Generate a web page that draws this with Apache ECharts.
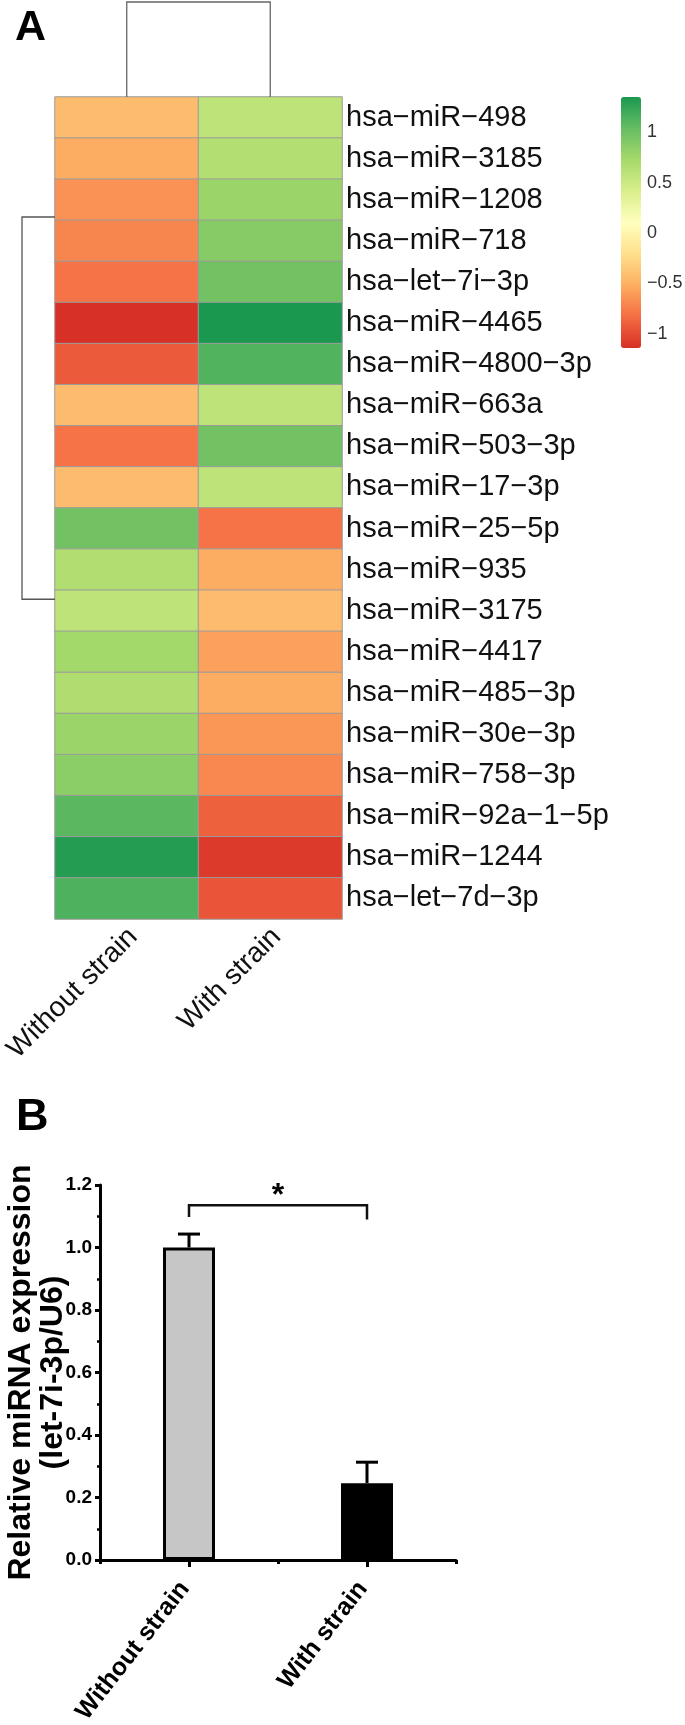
<!DOCTYPE html>
<html><head><meta charset="utf-8">
<script src="https://cdn.jsdelivr.net/npm/echarts@6/dist/echarts.min.js"></script>
<style>html,body{margin:0;padding:0;background:#fff}#c{width:685px;height:1725px}</style>
</head><body><div id="c"></div>
<script>
// ---------- Data ----------
const mirnas = ['hsa-miR-498','hsa-miR-3185','hsa-miR-1208','hsa-miR-718','hsa-let-7i-3p','hsa-miR-4465','hsa-miR-4800-3p','hsa-miR-663a','hsa-miR-503-3p','hsa-miR-17-3p','hsa-miR-25-5p','hsa-miR-935','hsa-miR-3175','hsa-miR-4417','hsa-miR-485-3p','hsa-miR-30e-3p','hsa-miR-758-3p','hsa-miR-92a-1-5p','hsa-miR-1244','hsa-let-7d-3p'];
const groups = ['Without strain','With strain'];
const withoutStrainZ = [-0.43,-0.52,-0.65,-0.71,-0.80,-1.14,-0.92,-0.43,-0.80,-0.43,0.98,0.66,0.59,0.74,0.67,0.78,0.86,1.08,1.31,1.14];
const withStrainZ   = [0.59,0.65,0.78,0.88,0.98,1.35,1.12,0.59,0.98,0.59,-0.80,-0.52,-0.43,-0.58,-0.52,-0.63,-0.70,-0.89,-1.09,-0.95];
const colorMin = -1.14, colorMax = 1.35;
const colorTicks = [-1,-0.5,0,0.5,1];
const rowTreeBranches = [2.92, 12.22];   // row positions (in rows from top) joined by the row dendrogram
const barGroups = ['Without strain','With strain'];
const barMeans = [1.0, 0.246];
const barErrors = [0.043, 0.067];
const sigBracket = [{from:0, to:1, level:1.135, dropFrom:1.098, dropTo:1.09, label:'*'}];

// ---------- Build ----------
const heatData = [];
mirnas.forEach((m, r) => {
  heatData.push([0, r, withoutStrainZ[r]]);
  heatData.push([1, r, withStrainZ[r]]);
});
const FONT = 'Liberation Sans, Arial, Helvetica, sans-serif';
const NARROW = 'Liberation Sans Narrow, Arial Narrow, Liberation Sans, Arial, sans-serif';
const minus = s => String(s).replace(/-/g, '\u2212');
const palette = ['#d73027','#f46d43','#fdae61','#fee08b','#ffffbf','#d9ef8b','#a6d96a','#66bd63','#1a9850'];

const chart = echarts.init(document.getElementById('c'), null, {renderer: 'canvas'});
const option = {
  animation: false,
  backgroundColor: '#fff',
  title: [
    {text: 'A', left: 10, top: 2, textStyle: {fontFamily: FONT, fontSize: 43, fontWeight: 'bold', color: '#000'}},
    {text: 'B', left: 11, top: 1090, textStyle: {fontFamily: FONT, fontSize: 45, fontWeight: 'bold', color: '#000'}}
  ],
  grid: [
    {left: 55, top: 97, width: 287, height: 822, outerBoundsMode: 'none', containLabel: false},
    {left: 100, top: 1185, width: 356, height: 375, outerBoundsMode: 'none', containLabel: false},
    {left: 621, top: 97, width: 20, height: 251, outerBoundsMode: 'none', containLabel: false}
  ],
  visualMap: {
    type: 'continuous', min: colorMin, max: colorMax, seriesIndex: 0,
    left: 621, top: 97, itemWidth: 20, itemHeight: 251, padding: 0,
    calculable: false, text: null, hoverLink: false, showLabel: false,
    inRange: {color: palette}
  },
  xAxis: [
    {gridIndex: 0, type: 'category', data: groups, position: 'bottom',
     axisLine: {show: false}, axisTick: {show: false}, splitLine: {show: false},
     axisLabel: {rotate: 45, margin: 20, padding: [0, -9, 0, 0], fontFamily: FONT, fontSize: 28, color: '#111', interval: 0}},
    {gridIndex: 1, type: 'category', data: barGroups, position: 'bottom',
     axisLine: {lineStyle: {color: '#000', width: 3}},
     axisTick: {show: true, length: 4, lineStyle: {color: '#000', width: 3}},
     axisLabel: {show: false}},
    {gridIndex: 1, type: 'category', data: barGroups, position: 'bottom',
     axisLine: {show: false},
     axisTick: {show: true, alignWithLabel: true, length: 7, lineStyle: {color: '#000', width: 3}},
     axisLabel: {rotate: 52, margin: 19, padding: [0, 7, 0, 0], fontFamily: FONT, fontSize: 25, fontWeight: 'bold', color: '#000', interval: 0}},
    {gridIndex: 2, type: 'value', show: false, min: 0, max: 1}
  ],
  yAxis: [
    {gridIndex: 0, type: 'category', data: mirnas, inverse: true, position: 'right',
     axisLine: {show: false}, axisTick: {show: false}, splitLine: {show: false},
     axisLabel: {margin: 4, fontFamily: FONT, fontSize: 29, color: '#111', formatter: minus}},
    {gridIndex: 1, type: 'value', min: 0, max: 1.2, interval: 0.2,
     axisLine: {show: true, lineStyle: {color: '#000', width: 3}},
     axisTick: {show: true, length: 5, lineStyle: {color: '#000', width: 3}},
     minorTick: {show: true, splitNumber: 2, length: 3, lineStyle: {color: '#000', width: 2.5}},
     splitLine: {show: false},
     axisLabel: {margin: 8, fontFamily: NARROW, fontSize: 19, fontWeight: 'bold', color: '#000',
                 formatter: v => v.toFixed(1)},
     name: 'Relative miRNA expression\n(let-7i-3p/U6)', nameLocation: 'middle', nameGap: 31, nameRotate: 90,
     nameMoveOverlap: false,
     nameTextStyle: {fontFamily: FONT, fontSize: 32, fontWeight: 'bold', color: '#000', lineHeight: 32}},
    {gridIndex: 2, type: 'value', min: colorMin, max: colorMax, position: 'right',
     axisLine: {show: false}, axisTick: {show: false}, splitLine: {show: false},
     axisLabel: {customValues: colorTicks, margin: 6, fontFamily: FONT, fontSize: 18, color: '#333', formatter: minus}}
  ],
  series: [
    {type: 'heatmap', xAxisIndex: 0, yAxisIndex: 0, data: heatData,
     itemStyle: {borderColor: '#9b9b9b', borderWidth: 1}, emphasis: {disabled: true}},
    // column dendrogram
    {type: 'custom', xAxisIndex: 0, yAxisIndex: 0, data: [[0, 1]], clip: false, silent: true,
     renderItem: (params, api) => {
       const a = api.coord([api.value(0), 0]);
       const b = api.coord([api.value(1), 0]);
       const top = a[1] - api.size([0, 1])[1] / 2;
       const h = 95;
       return {type: 'polyline', shape: {points: [[a[0], top], [a[0], top - h], [b[0], top - h], [b[0], top]]},
               style: {stroke: '#666', lineWidth: 1.3, fill: null}};
     }},
    // row dendrogram
    {type: 'custom', xAxisIndex: 0, yAxisIndex: 0, data: [rowTreeBranches], clip: false, silent: true,
     renderItem: (params, api) => {
       const rowH = api.size([0, 1])[1];
       const c0 = api.coord([0, 0]);
       const top = c0[1] - rowH / 2;
       const left = c0[0] - api.size([1, 0])[0] / 2;
       const y1 = top + api.value(0) * rowH, y2 = top + api.value(1) * rowH;
       const w = 33;
       return {type: 'polyline', shape: {points: [[left, y1], [left - w, y1], [left - w, y2], [left, y2]]},
               style: {stroke: '#555', lineWidth: 1.3, fill: null}};
     }},
    // bars
    {type: 'bar', xAxisIndex: 2, yAxisIndex: 1, barWidth: 52,
     data: barMeans.map((v, i) => ({value: v, itemStyle: {color: i === 0 ? '#c6c6c6' : '#000'}})),
     itemStyle: {borderColor: '#000', borderWidth: 3}, silent: true},
    // error bars
    {type: 'custom', xAxisIndex: 2, yAxisIndex: 1, silent: true, z: 3,
     data: barMeans.map((m, i) => [i, m, barErrors[i]]),
     renderItem: (params, api) => {
       const i = api.value(0), m = api.value(1), e = api.value(2);
       const p0 = api.coord([i, m]), p1 = api.coord([i, m + e]);
       const cap = 11;
       return {type: 'group', children: [
         {type: 'line', shape: {x1: p0[0], y1: p0[1], x2: p1[0], y2: p1[1]}, style: {stroke: '#000', lineWidth: 3}},
         {type: 'line', shape: {x1: p1[0] - cap, y1: p1[1], x2: p1[0] + cap, y2: p1[1]}, style: {stroke: '#000', lineWidth: 3}}
       ]};
     }},
    // significance bracket
    {type: 'custom', xAxisIndex: 2, yAxisIndex: 1, silent: true, clip: false,
     data: sigBracket.map(s => [s.from, s.to, s.level, s.dropFrom, s.dropTo]),
     renderItem: (params, api) => {
       const s = sigBracket[params.dataIndex];
       const a = api.coord([api.value(0), api.value(2)]);
       const b = api.coord([api.value(1), api.value(2)]);
       const ad = api.coord([api.value(0), api.value(3)]);
       const bd = api.coord([api.value(1), api.value(4)]);
       return {type: 'group', children: [
         {type: 'polyline', shape: {points: [[ad[0], ad[1]], [a[0], a[1]], [b[0], b[1]], [bd[0], bd[1]]]},
          style: {stroke: '#111', lineWidth: 2.5, fill: null}},
         {type: 'text', x: (a[0] + b[0]) / 2, y: a[1] - 9,
          style: {text: s.label, fontFamily: FONT, fontSize: 32, fontWeight: 'bold', fill: '#000',
                  align: 'center', verticalAlign: 'middle'}}
       ]};
     }}
  ]
};
chart.setOption(option);
</script>
</body></html>
